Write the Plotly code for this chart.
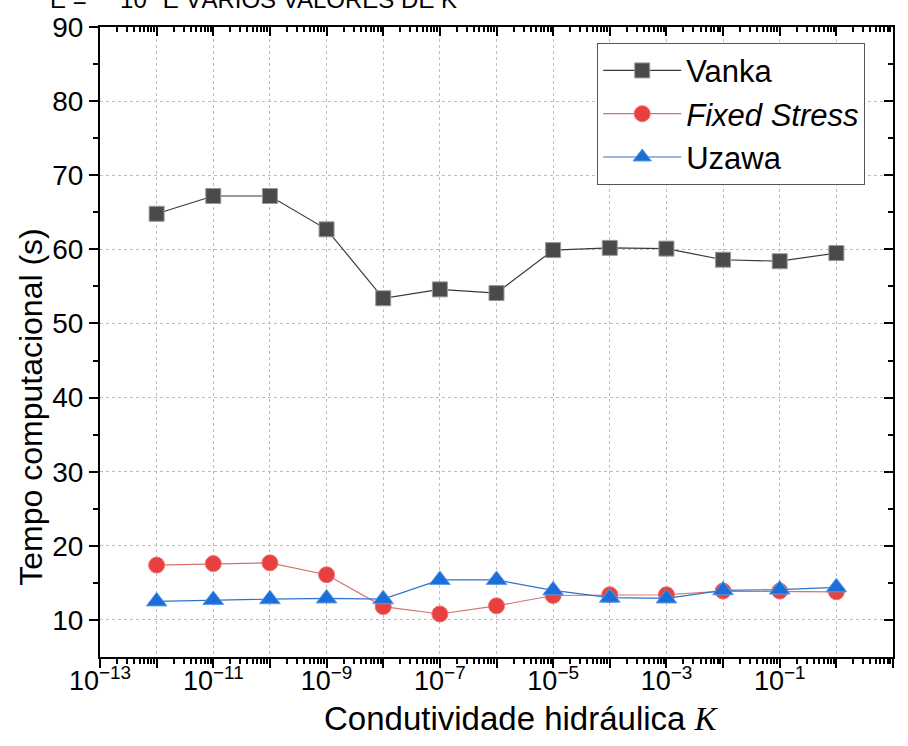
import plotly.graph_objects as go

# Hydraulic conductivity values (one per decade)
k_values = [1e-12, 1e-11, 1e-10, 1e-9, 1e-8, 1e-7, 1e-6, 1e-5, 1e-4, 1e-3, 1e-2, 1e-1, 1e0]

# Computational time (s) for each solver
vanka = [64.8, 67.2, 67.2, 62.7, 53.4, 54.6, 54.1, 59.9, 60.2, 60.1, 58.6, 58.4, 59.5]
fixed_stress = [17.4, 17.6, 17.7, 16.1, 11.8, 10.8, 11.9, 13.3, 13.4, 13.4, 13.9, 13.9, 13.8]
uzawa = [12.5, 12.7, 12.8, 12.9, 12.8, 15.4, 15.4, 14.0, 13.0, 12.9, 14.0, 14.1, 14.4]

# Axis ticks
x_exponents = list(range(-13, 2))
x_tickvals = [10.0 ** e for e in x_exponents]
x_ticktext = [f"10<sup>\u2212{abs(e)}</sup>" if (e % 2 != 0 and e < 0) else
              (f"10<sup>{e}</sup>" if e % 2 != 0 else "") for e in x_exponents]
x_minor = [m * 10.0 ** e for e in range(-13, 1) for m in range(2, 10)]
y_tickvals = [10, 20, 30, 40, 50, 60, 70, 80, 90]
y_minor = [15, 25, 35, 45, 55, 65, 75, 85]

FONT = "Liberation Sans, Arial, sans-serif"
X_RANGE = [-13, 1]
Y_RANGE = [5, 90]
GRID = "#bdbdbd"

fig = go.Figure()

fig.add_trace(go.Scatter(
    x=k_values, y=vanka, name="Vanka", mode="lines+markers",
    line=dict(color="#3a3a3a", width=1.2),
    marker=dict(symbol="square", size=15, color="#4a4a4a",
                line=dict(color="#9a9a9a", width=1)),
    legendgroup="a",
))
fig.add_trace(go.Scatter(
    x=k_values, y=fixed_stress, name="<i>Fixed Stress</i>", mode="lines+markers",
    line=dict(color="#d77070", width=1.2),
    marker=dict(symbol="circle", size=16, color="#e8403f",
                line=dict(color="#f07070", width=1)),
    legendgroup="b",
))
fig.add_trace(go.Scatter(
    x=k_values, y=uzawa, name="Uzawa", mode="lines+markers",
    line=dict(color="#2f72c8", width=1.2),
    marker=dict(symbol="triangle-up", size=18, color="#1a6ed8",
                line=dict(color="#5a9ae8", width=1)),
    legendgroup="c",
))
# Empty trace that carries the mirrored top/right axes
fig.add_trace(go.Scatter(x=[], y=[], xaxis="x2", yaxis="y2",
                         showlegend=False, hoverinfo="skip"))

axis_common = dict(showline=True, linecolor="black", linewidth=2,
                   tickcolor="black", tickwidth=2, zeroline=False)

fig.update_layout(
    width=908, height=746,
    margin=dict(l=100, r=15, t=23, b=89),
    paper_bgcolor="white", plot_bgcolor="white",
    font=dict(family=FONT, color="black"),
    showlegend=True,
    legend=dict(
        x=0.627, y=0.975, xanchor="left", yanchor="top",
        bgcolor="white", bordercolor="#555555", borderwidth=1,
        font=dict(size=31, family=FONT, color="black"),
        tracegroupgap=0, itemwidth=78,
    ),
    xaxis=dict(
        type="log", range=X_RANGE, **axis_common,
        ticks="outside", ticklen=9, ticklabelstandoff=-10,
        tickmode="array", tickvals=x_tickvals, ticktext=x_ticktext,
        tickfont=dict(size=27, family=FONT),
        showgrid=True, gridcolor=GRID, griddash="dot", gridwidth=1,
        minor=dict(tickmode="array", tickvals=x_minor, ticks="outside",
                   ticklen=5, tickwidth=2, tickcolor="black", showgrid=False),
    ),
    yaxis=dict(
        range=Y_RANGE, **axis_common,
        ticks="outside", ticklen=9,
        tickmode="array", tickvals=y_tickvals,
        tickfont=dict(size=28, family=FONT),
        showgrid=True, gridcolor=GRID, griddash="dot", gridwidth=1,
        minor=dict(tickmode="array", tickvals=y_minor, ticks="outside",
                   ticklen=5, tickwidth=2, tickcolor="black", showgrid=False),
    ),
    xaxis2=dict(
        type="log", range=X_RANGE, overlaying="x", side="top", anchor="y2",
        **axis_common, ticks="inside", ticklen=9,
        tickmode="array", tickvals=x_tickvals, showticklabels=False,
        showgrid=False,
        minor=dict(tickmode="array", tickvals=x_minor, ticks="inside",
                   ticklen=5, tickwidth=2, tickcolor="black", showgrid=False),
    ),
    yaxis2=dict(
        range=Y_RANGE, overlaying="y", side="right", anchor="x2",
        **axis_common, ticks="inside", ticklen=9,
        tickmode="array", tickvals=y_tickvals, showticklabels=False,
        showgrid=False,
        minor=dict(tickmode="array", tickvals=y_minor, ticks="inside",
                   ticklen=5, tickwidth=2, tickcolor="black", showgrid=False),
    ),
)

# Axis titles
fig.add_annotation(
    text="Condutividade hidráulica "
         "<span style='font-family:Liberation Serif'><i>K</i></span>",
    xref="paper", yref="paper", x=0.532, y=-0.097,
    xanchor="center", yanchor="middle", showarrow=False,
    font=dict(size=33, family=FONT, color="black"),
)
fig.add_annotation(
    text="Tempo computacional (s)",
    xref="paper", yref="paper", x=-0.088, y=0.396, textangle=-90,
    xanchor="center", yanchor="middle", showarrow=False,
    font=dict(size=32, family=FONT, color="black"),
)

# Heading line above the plot (runs off the top edge of the page)
fig.add_annotation(
    text="E =\u00a0\u00a0\u00a0\u00a0\u00a010<sup>8</sup> E VÁRIOS VALORES DE K",
    xref="paper", yref="paper", x=-0.066, y=1.019,
    xanchor="left", yanchor="bottom", showarrow=False,
    font=dict(size=24, family=FONT, color="black"),
)

fig.write_html("out.html")
